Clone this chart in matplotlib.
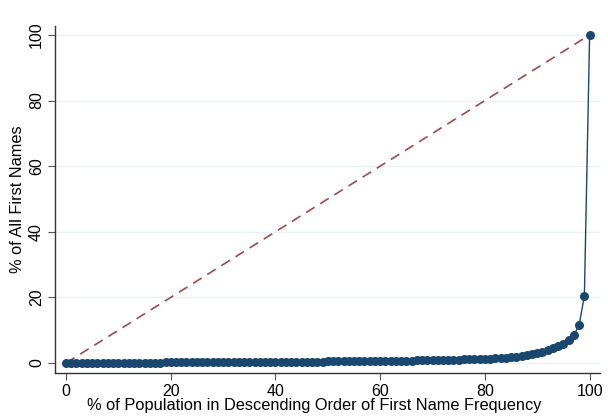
import matplotlib.pyplot as plt
import numpy as np

plt.rcParams['font.family'] = ['Liberation Sans', 'DejaVu Sans']

# % of population (descending order of first name frequency)
pop_pct = list(range(0, 101))

# cumulative % of all first names
names_pct = [
    0.00, 0.01, 0.02, 0.03, 0.04, 0.05, 0.06, 0.06, 0.07, 0.08,   # 0-9
    0.09, 0.10, 0.10, 0.11, 0.12, 0.13, 0.14, 0.14, 0.15, 0.16,   # 10-19
    0.17, 0.18, 0.18, 0.19, 0.20, 0.21, 0.22, 0.22, 0.23, 0.24,   # 20-29
    0.25, 0.26, 0.27, 0.28, 0.29, 0.30, 0.31, 0.32, 0.33, 0.34,   # 30-39
    0.35, 0.36, 0.37, 0.38, 0.39, 0.40, 0.41, 0.42, 0.43, 0.45,   # 40-49
    0.46, 0.47, 0.49, 0.50, 0.52, 0.53, 0.55, 0.56, 0.58, 0.60,   # 50-59
    0.62, 0.64, 0.66, 0.68, 0.70, 0.72, 0.74, 0.77, 0.80, 0.83,   # 60-69
    0.86, 0.89, 0.92, 0.96, 1.00, 1.04, 1.08, 1.13, 1.18, 1.24,   # 70-79
    1.30, 1.37, 1.45, 1.55, 1.66, 1.80, 1.96, 2.15, 2.40, 2.70,   # 80-89
    3.05, 3.45, 3.90, 4.45, 5.10, 5.90, 7.00, 8.50, 11.6, 20.5,   # 90-99
    100.0,
]

equality = [0, 100]

navy = '#1a476f'
maroon = '#9a4a50'

fig = plt.figure(figsize=(6.08, 4.17), dpi=100)
ax = fig.add_axes([0.0905, 0.1055, 0.8965, 0.832])

ax.plot(equality, equality, linestyle=(0, (6, 4)), color=maroon, linewidth=1.2, zorder=2)
ax.plot(pop_pct, names_pct, color=navy, linewidth=1.0, marker='o', markersize=6.5,
        markeredgewidth=0, zorder=3)

ax.set_xlim(-2.1, 102)
ax.set_ylim(-3.05, 102.7)
ax.set_xticks([0, 20, 40, 60, 80, 100])
ax.set_yticks([0, 20, 40, 60, 80, 100])
ax.yaxis.grid(True, color='#eaf2f3', linewidth=1.0)
ax.set_axisbelow(True)

for s in ['top', 'right']:
    ax.spines[s].set_visible(False)
for s in ['left', 'bottom']:
    ax.spines[s].set_color('#333333')
    ax.spines[s].set_linewidth(1.0)

ax.tick_params(axis='both', direction='out', length=5, color='#555555', labelsize=11.5,
               labelcolor='black', pad=3)
plt.setp(ax.get_yticklabels(), rotation=90, va='center')

ax.set_xlabel('% of Population in Descending Order of First Name Frequency', fontsize=11.8)
ax.xaxis.set_label_coords(0.475, -0.071)
ax.set_ylabel('% of All First Names', fontsize=11.8, labelpad=3)

fig.savefig('out.png', dpi=100)
